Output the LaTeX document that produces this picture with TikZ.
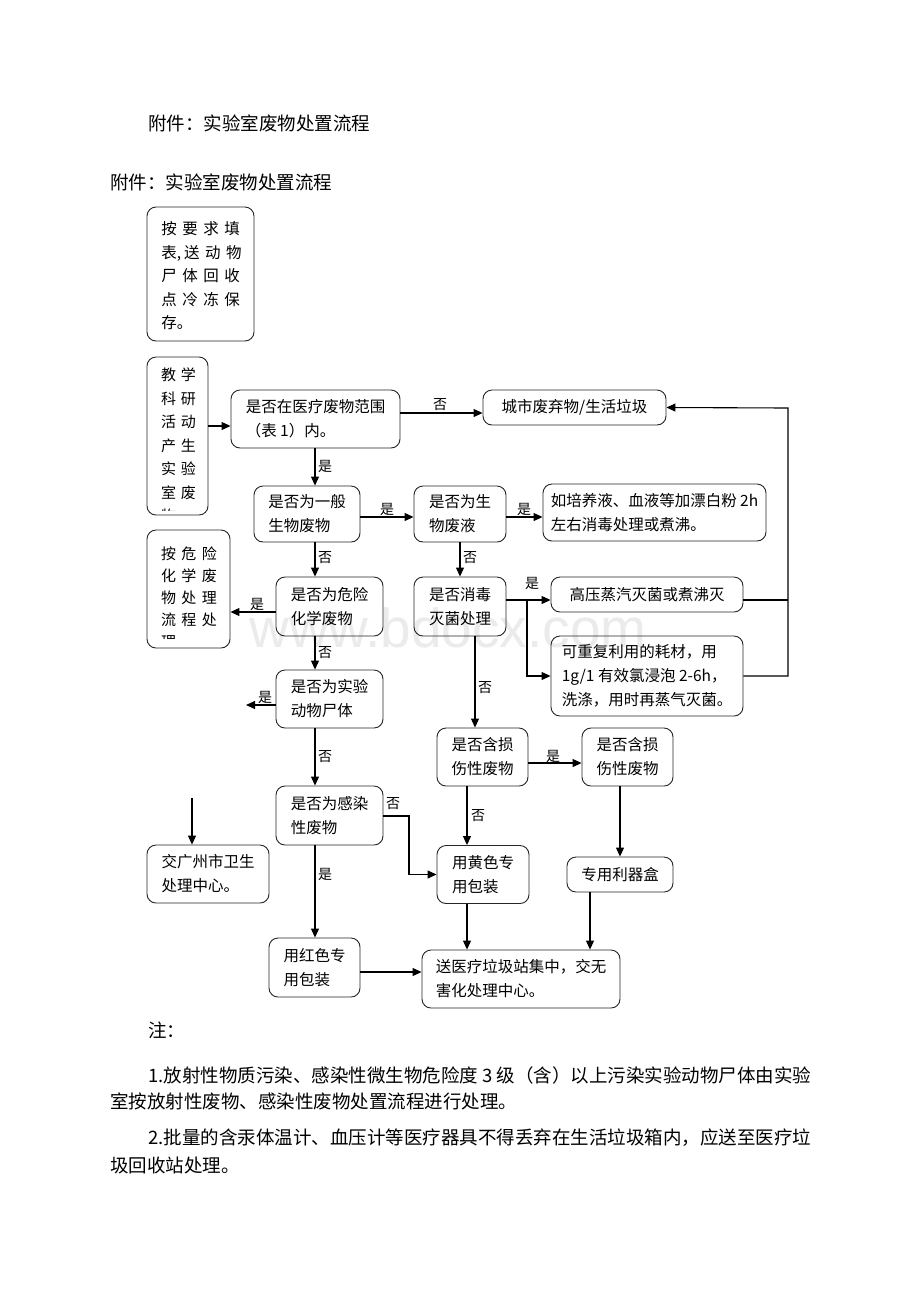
\documentclass[tikz,border=0pt]{standalone}
\usepackage{fontspec}
\setmainfont{Noto Sans CJK SC}
\newfontfamily\wmfont{Liberation Sans}
\usetikzlibrary{arrows.meta,calc}
\tikzset{
 box/.style={draw=black!85, line width=0.9pt, rounded corners=9pt, align=left, inner sep=0pt, font=\fontsize{15.5}{24}\selectfont},
 arr/.style={line width=1.1pt, -{Triangle[length=9pt,width=8pt]}},
 ln/.style={line width=1.1pt},
 lab/.style={font=\fontsize{14}{16}\selectfont, inner sep=0pt},
 head/.style={font=\fontsize{18.5}{20}\selectfont, inner sep=0pt, anchor=west},
 vtext/.style={inner sep=0pt, align=left},
}
\newcommand\gp{\hspace{5.5pt}}
\begin{document}
\begin{tikzpicture}[x=1pt,y=-1pt]
\useasboundingbox (0,0) rectangle (920,1302);
\fill[white] (0,0) rectangle (920,1302);
% watermark
\node[text=gray!16, font=\wmfont\fontsize{55}{55}\selectfont, inner sep=0pt] (wm) at (448,628) {www.bdocx.com};
% headers
\node[head] (h1) at (148,123) {附件：实验室废物处置流程};
\node[head] (h2) at (110,182) {附件：实验室废物处置流程};
% boxes
\node[box, minimum width=107pt, minimum height=134pt] (A) at (200.5,274) {};
\begin{scope}
\clip (150,210) rectangle (252,329);
\node[vtext, font=\fontsize{15.5}{23.5}\selectfont] (At) at (201.5,276) {按\gp 要\gp 求\gp 填\\表,\hspace{3pt}送\gp 动\gp 物\\尸\gp 体\gp 回\gp 收\\点\gp 冷\gp 冻\gp 保\\存。};
\end{scope}
\node[box, minimum width=61pt, minimum height=158pt] (B) at (177.5,436) {};
\begin{scope}
\clip (150,360) rectangle (206,510);
\node[vtext, font=\fontsize{15}{23.5}\selectfont] (Bt) at (178.5,445.5) {教\hspace{5pt}学\\科\hspace{5pt}研\\活\hspace{5pt}动\\产\hspace{5pt}生\\实\hspace{5pt}验\\室\hspace{5pt}废\\物};
\end{scope}
\node[box, minimum width=83pt, minimum height=118pt] (H) at (188.5,589) {};
\begin{scope}
\clip (150,533) rectangle (228,638);
\node[vtext, font=\fontsize{15}{22}\selectfont] (Ht) at (189,597) {按\gp 危\gp 险\\化\gp 学\gp 废\\物\gp 处\gp 理\\流\gp 程\gp 处\\理};
\end{scope}
\node[box, minimum width=169pt, minimum height=58pt] (C) at (315.5,419) {是否在医疗废物范围\\（表 1）内。};
\node[box, minimum width=183pt, minimum height=35pt] (D) at (574.5,407.5) {城市废弃物/生活垃圾};
\node[box, minimum width=106pt, minimum height=56pt] (E) at (307,514) {是否为一般\\生物废物};
\node[box, minimum width=92pt, minimum height=56pt] (F) at (460,514) {是否为生\\物废液};
\node[box, minimum width=223pt, minimum height=57pt] (G) at (654.5,512.5) {如培养液、血液等加漂白粉 2h\\左右消毒处理或煮沸。};
\node[box, minimum width=107pt, minimum height=59pt] (I) at (329.5,606.5) {是否为危险\\化学废物};
\node[box, minimum width=92pt, minimum height=59pt] (J) at (460,606.5) {是否消毒\\灭菌处理};
\node[box, minimum width=192pt, minimum height=35pt] (K) at (647,594.5) {高压蒸汽灭菌或煮沸灭};
\node[box, minimum width=192pt, minimum height=80pt] (L) at (647,676) {可重复利用的耗材，用\\1g/1 有效氯浸泡 2-6h，\\洗涤，用时再蒸气灭菌。};
\node[box, minimum width=107pt, minimum height=58pt] (M) at (329.5,699) {是否为实验\\动物尸体};
\node[box, minimum width=91pt, minimum height=58pt] (N) at (482.5,757) {是否含损\\伤性废物};
\node[box, minimum width=91pt, minimum height=58pt] (O) at (627.5,757) {是否含损\\伤性废物};
\node[box, minimum width=107pt, minimum height=59pt] (P) at (329.5,815.5) {是否为感染\\性废物};
\node[box, minimum width=122pt, minimum height=58pt] (Q) at (208,874) {交广州市卫生\\处理中心。};
\node[box, minimum width=92pt, minimum height=58pt] (R) at (483,874.5) {用黄色专\\用包装};
\node[box, minimum width=106pt, minimum height=35pt] (S) at (620,874.5) {专用利器盒};
\node[box, minimum width=91pt, minimum height=59pt] (T) at (314.5,967.5) {用红色专\\用包装};
\node[box, minimum width=198pt, minimum height=58pt] (U) at (521,979) {送医疗垃圾站集中，交无\\害化处理中心。};
% helper coordinates
\coordinate (x315) at (315,0);
\coordinate (y426) at (0,426);
\coordinate (y413) at (0,413);
\coordinate (y517) at (0,517);
\coordinate (y612) at (0,612);
\coordinate (y600) at (0,600);
\coordinate (jb) at (527,600);
\coordinate (kr) at (788,600);
\coordinate (rtop) at (788,408);
\coordinate (mend) at (246,705);
\coordinate (qstart) at (192,798);
\coordinate (pr) at (409,816);
\coordinate (xjn) at (475,0);
\coordinate (y763) at (0,763);
\coordinate (x467) at (467,0);
\coordinate (x590) at (590,0);
\coordinate (y972) at (0,972);
% connectors
\draw[arr] (B.east |- y426) -- (C.west |- y426);
\draw[arr] (C.east |- y413) -- (D.west |- y413);
\draw[arr] (L.east) -| (rtop) -- (D.east);
\draw[ln] (K.east |- y600) -- (kr);
\draw[arr] (C.south -| x315) -- (E.north -| x315);
\draw[arr] (E.east |- y517) -- (F.west |- y517);
\draw[arr] (F.east |- y517) -- (G.west |- y517);
\draw[arr] (E.south -| x315) -- (I.north -| x315);
\draw[arr] (F.south) -- (J.north);
\draw[arr] (I.west |- y612) -- (H.east |- y612);
\draw[arr] (J.east |- y600) -- (K.west |- y600);
\draw[arr] (jb) |- (L.west);
\draw[arr] (I.south -| x315) -- (M.north -| x315);
\draw[arr] (M.west |- mend) -- (mend);
\draw[arr] (qstart) -- (Q.north -| qstart);
\draw[arr] (M.south -| x315) -- (P.north -| x315);
\draw[arr] (P.east |- pr) -- (pr) |- (R.west);
\draw[arr] (P.south -| x315) -- (T.north -| x315);
\draw[arr] (J.south -| xjn) -- (N.north -| xjn);
\draw[arr] (N.east |- y763) -- (O.west |- y763);
\draw[arr] (N.south -| x467) -- (R.north -| x467);
\draw[arr] (O.south -| S.north) -- (S.north);
\draw[arr] (R.south -| x467) -- (U.north -| x467);
\draw[arr] (S.south -| x590) -- (U.north -| x590);
\draw[arr] (T.east |- y972) -- (U.west |- y972);
% labels
\node[lab] (l1) at (440,405) {否};
\node[lab] (l2) at (325,466) {是};
\node[lab] (l3) at (387,509) {是};
\node[lab] (l4) at (524,509) {是};
\node[lab] (l5) at (325,558) {否};
\node[lab] (l6) at (470,558) {否};
\node[lab] (l7) at (257,604) {是};
\node[lab] (l8) at (532,583) {是};
\node[lab] (l9) at (325,653) {否};
\node[lab] (l10) at (265,697) {是};
\node[lab] (l11) at (485,688) {否};
\node[lab] (l12) at (325,757) {否};
\node[lab] (l13) at (393,804) {否};
\node[lab] (l14) at (553,756) {是};
\node[lab] (l15) at (478,816) {否};
\node[lab] (l16) at (325,874) {是};
% notes
\node[head] (n0) at (148,1030) {注：};
\node[head] (n1) at (148,1075) {1.放射性物质污染、感染性微生物危险度 3 级（含）以上污染实验动物尸体由实验};
\node[head] (n2) at (110,1101) {室按放射性废物、感染性废物处置流程进行处理。};
\node[head] (n3) at (148,1138) {2.批量的含汞体温计、血压计等医疗器具不得丢弃在生活垃圾箱内，应送至医疗垃};
\node[head] (n4) at (110,1165) {圾回收站处理。};
\end{tikzpicture}
\end{document}
